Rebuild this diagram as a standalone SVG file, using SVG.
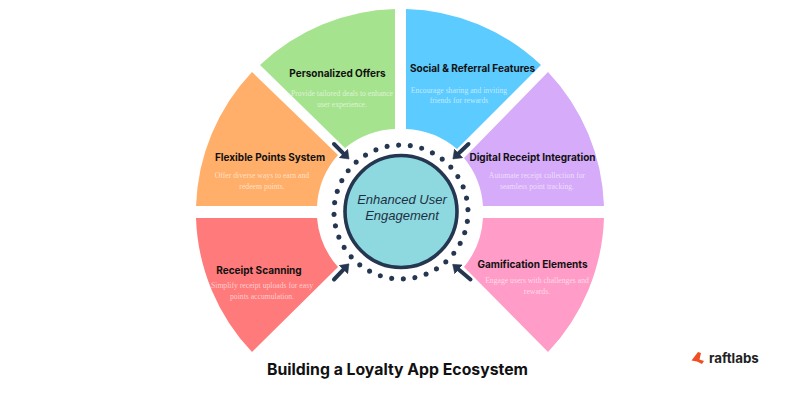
<svg xmlns="http://www.w3.org/2000/svg" width="800" height="400" viewBox="0 0 800 400">
<style>
.h{font-family:"Inter","Liberation Sans",sans-serif;font-weight:700;font-size:10px;fill:#111;text-anchor:middle}
.s{font-family:"Liberation Serif",serif;font-size:7.700px;fill:#fff;fill-opacity:.62;text-anchor:middle}
.c{font-family:"Liberation Sans",sans-serif;font-style:italic;font-size:13px;fill:#1f3044;text-anchor:middle}
.a{fill:none;stroke:#253650;stroke-width:4;stroke-linecap:round}
</style>
<defs>
<marker id="ah" viewBox="0 0 8 12" refX="2" refY="6" markerWidth="8" markerHeight="12" orient="auto" markerUnits="userSpaceOnUse">
<path d="M0 0L8 6L0 12Z" fill="#253650" stroke="#253650" stroke-width=".5" stroke-linejoin="round"/>
</marker>
</defs>
<rect width="800" height="400" fill="#fff"/>
<g id="node-personalized">
<path d="M395 9A204 204 0 0 0 260 65L345 148A84 84 0 0 1 395 129Z" fill="#A6E38F"/>
<text class="h" x="337.500" y="77">Personalized Offers</text>
<text class="s" x="342" y="95.500">Provide tailored deals to enhance</text>
<text class="s" x="342" y="106.500">user experience.</text>
</g>
<g id="node-social">
<path d="M406 9A204 204 0 0 1 541 65L457 149A84 84 0 0 0 406 129Z" fill="#5CCBFF"/>
<text class="h" x="472.500" y="71.500">Social &amp; Referral Features</text>
<text class="s" x="459" y="93">Encourage sharing and inviting</text>
<text class="s" x="459" y="103">friends for rewards</text>
</g>
<g id="node-flexible">
<path d="M252 72A205 205 0 0 0 196 206H317A84 84 0 0 1 338 155Z" fill="#FFAF69"/>
<text class="h" x="270" y="160.500">Flexible Points System</text>
<text class="s" x="262" y="178">Offer diverse ways to earn and</text>
<text class="s" x="262" y="188.500">redeem points.</text>
</g>
<g id="node-digital">
<path d="M548 72A205 205 0 0 1 604 206H483A84 84 0 0 0 464 158Z" fill="#D5ABFA"/>
<text class="h" x="532.500" y="160.500">Digital Receipt Integration</text>
<text class="s" x="537" y="178">Automate receipt collection for</text>
<text class="s" x="537" y="189">seamless point tracking.</text>
</g>
<g id="node-receipt">
<path d="M196 218H317A84 84 0 0 0 338 267L252 352A205 205 0 0 1 196 218Z" fill="#FF7A7A"/>
<text class="h" x="259" y="273.500">Receipt Scanning</text>
<text class="s" x="262" y="288">Simplify receipt uploads for easy</text>
<text class="s" x="262" y="299">points accumulation.</text>
</g>
<g id="node-gamification">
<path d="M483 218H604A205 205 0 0 1 548 352L464 267A84 84 0 0 0 483 218Z" fill="#FF9CC8"/>
<text class="h" x="532.500" y="267.500">Gamification Elements</text>
<text class="s" x="537" y="283">Engage users with challenges and</text>
<text class="s" x="537" y="294">rewards.</text>
</g>
<g id="connectors">
<path class="a" marker-end="url(#ah)" d="M334 144L344.800 154.800"/>
<path class="a" marker-end="url(#ah)" d="M468.500 144L457.200 154.800"/>
<path class="a" marker-end="url(#ah)" d="M334 279.500L344.800 268.200"/>
<path class="a" marker-end="url(#ah)" d="M470.500 279.500L457.200 268.200"/>
</g>
<g id="node-center">
<circle cx="401" cy="212" r="67" fill="none" stroke="#253650" stroke-width="5.200" stroke-linecap="round" pathLength="36" stroke-dasharray="0 1" transform="rotate(-92 401 212)"/>
<circle cx="401" cy="211.500" r="56" fill="#8DD9DF" stroke="#253650" stroke-width="3.600"/>
<text class="c" x="402" y="204">Enhanced User</text>
<text class="c" x="402" y="220">Engagement</text>
</g>
<g id="title">
<text x="397.500" y="375" font-family="Inter,'Liberation Sans',sans-serif" font-weight="700" font-size="15.800" fill="#111" text-anchor="middle">Building a Loyalty App Ecosystem</text>
</g>
<g id="logo">
<path d="M698 352L691.500 360.500L697 361.500L702 364L704 361L699.500 359.500L701 353Z" fill="#F04E23"/>
<text x="709" y="362.500" font-family="Inter,'Liberation Sans',sans-serif" font-weight="700" font-size="13.300px" fill="#222">raftlabs</text>
</g>
</svg>
